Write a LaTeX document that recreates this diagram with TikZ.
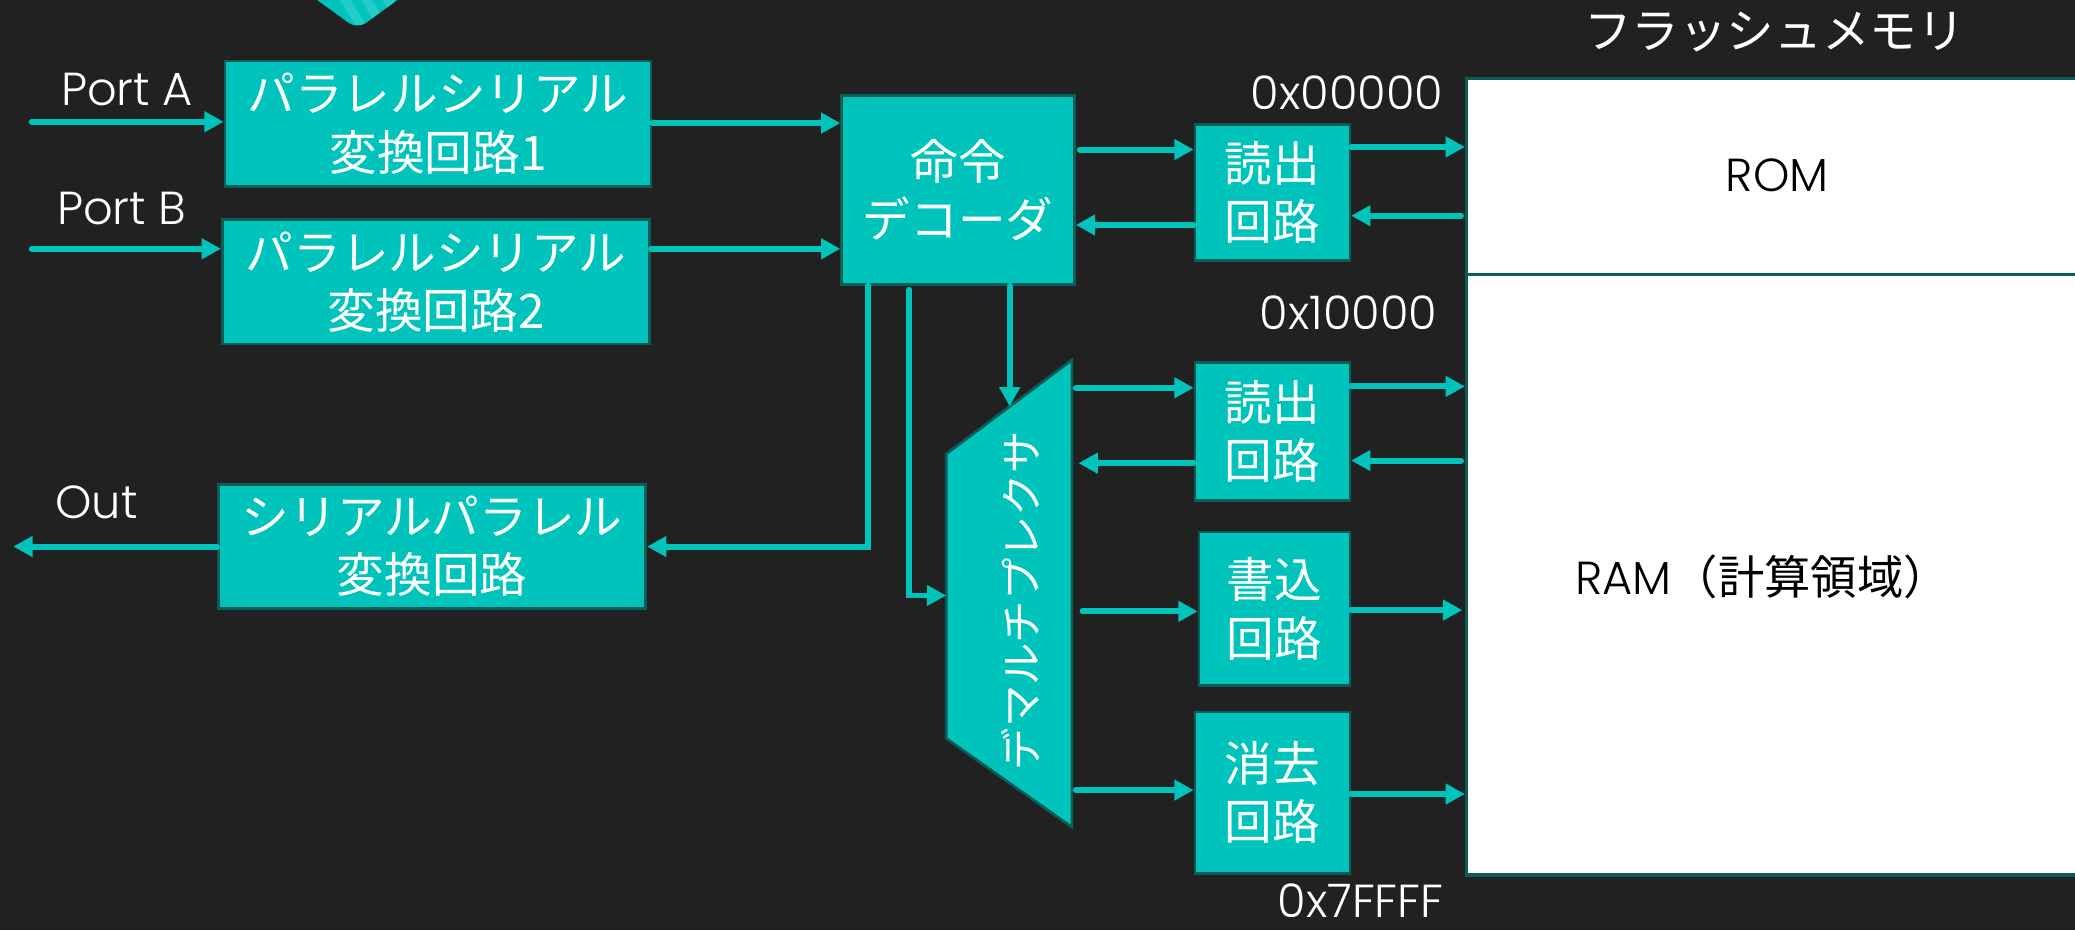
\documentclass[tikz,border=0pt]{standalone}
\usepackage{fontspec}
\setmainfont{Poppins}[UprightFont=*-Light]
\newfontfamily\jp{Noto Sans CJK JP}
\usetikzlibrary{arrows.meta,calc}
\definecolor{bg}{HTML}{212121}
\definecolor{tq}{HTML}{00C4BC}
\definecolor{tqd}{HTML}{0C5C58}
\definecolor{tql}{HTML}{4FD8D0}
\tikzset{
  box/.style={draw=tqd, line width=1pt, fill=tq, text=white, align=center, inner sep=0pt,
    font=\jp\fontsize{18}{22}\selectfont},
  lbl/.style={text=white, inner sep=0pt, anchor=base, font=\fontsize{17.5}{20}\selectfont},
  mem/.style={draw=tqd, line width=1.2pt, fill=white, inner sep=0pt, anchor=north west},
  arr/.style={draw=tq, line width=2.25pt, line cap=round, -{Triangle[length=7.3pt,width=7.5pt]}},
}
\begin{document}
\begin{tikzpicture}[x=0.5pt,y=-0.5pt]
\fill[bg] (0,0) rectangle (1568,703);
\useasboundingbox (0,0) rectangle (1568,703);

% top chevron decoration
\begin{scope}
  \clip[rounded corners=4pt] (226,-10) -- (270,22) -- (314,-10) -- cycle;
  \fill[tq] (200,-20) rectangle (340,40);
  \foreach \s in {0,16,32,48,64}{
    \fill[tql,opacity=0.45] (250+\s,-12) -- (258+\s,-12) -- (283+\s,30) -- (275+\s,30) -- cycle;
  }
\end{scope}

% labels
\node[lbl] (portA) at (96,80) {Port A};
\node[lbl] (portB) at (92,170) {Port B};
\node[lbl] (outl) at (73,392) {Out};
\node[lbl] (ad0) at (1018,83) {0x00000};
\node[lbl] (ad1) at (1019,249) {0x10000};
\node[lbl] (ad2) at (1028,693) {0x7FFFF};
\node[text=white, inner sep=0pt, font=\jp\fontsize{18}{22}\selectfont] (fl) at (1341,24) {フラッシュメモリ};

% memory
\node[mem, minimum width=236.5pt, minimum height=74pt] (rom) at (1107,58) {};
\node[mem, minimum width=236.5pt, minimum height=227pt] (ram) at (1107,206) {};
\node[inner sep=0pt, anchor=base, font=\fontsize{17.5}{20}\selectfont] (romt) at (1343,145) {ROM};
\node[inner sep=0pt, anchor=base, font=\fontsize{17.5}{20}\selectfont] (ramt) at (1332,449) {RAM{\jp （計算領域）}};

% boxes
\node[box, minimum width=161pt, minimum height=47.5pt] (ps1) at (331,93.5) {パラレルシリアル\\変換回路1};
\node[box, minimum width=161.5pt, minimum height=47pt] (ps2) at (329.5,213) {パラレルシリアル\\変換回路2};
\node[box, minimum width=161.5pt, minimum height=47pt] (sp) at (326.5,413) {シリアルパラレル\\変換回路};
\node[box, minimum width=88pt, minimum height=71.5pt] (dec) at (724,143.5) {命令\\デコーダ};
\node[box, minimum width=58.5pt, minimum height=51.5pt] (rd1) at (961.5,145.5) {読出\\回路};
\node[box, minimum width=58.5pt, minimum height=52pt] (rd2) at (961.5,326) {読出\\回路};
\node[box, minimum width=57pt, minimum height=58pt] (wr) at (963,460) {書込\\回路};
\node[box, minimum width=58.5pt, minimum height=61pt] (er) at (961.5,599) {消去\\回路};

% demultiplexer
\coordinate (dtl) at (715,343);
\coordinate (dtr) at (810,272);
\coordinate (dbr) at (810,625);
\coordinate (dbl) at (715,558);
\draw[draw=tqd, line width=1pt, fill=tq] (dtl) -- (dtr) -- (dbr) -- (dbl) -- cycle;
\node[rotate=90, text=white, inner sep=0pt, font=\jp\fontsize{16}{16}\selectfont] (dmx) at (771,454) {デマルチプレクサ};
\coordinate (dtop) at ($(dtl)!0.505!(dtr)$);

% inputs / outputs
\coordinate (pa) at (24,92);
\coordinate (pb) at (24,188);
\coordinate (outp) at (10,413);
\draw[arr] (pa) -- (pa -| ps1.west);
\draw[arr] (pb) -- (pb -| ps2.west);
\draw[arr] (sp.west) -- (outp |- sp.west);
\draw[arr] (ps1.east |- 0,93) -- (dec.west |- 0,93);
\draw[arr] (ps2.east |- 0,188) -- (dec.west |- 0,188);

% decoder outputs
\draw[arr] (dec.south -| 656,0) -- (656,0 |- sp.east) -- (sp.east);
\coordinate (c7) at (687,219);
\draw[arr] (c7) -- (c7 |- 0,450) -- (dtl |- 0,450);
\draw[arr] (dec.south -| dtop) -- (dtop);

% read circuit 1
\draw[arr] ($(dec.east |- 0,113)+(3,0)$) -- (rd1.west |- 0,113);
\draw[arr] (rd1.west |- 0,170) -- (dec.east |- 0,170);
\draw[arr] (rd1.east |- 0,111) -- (rom.west |- 0,111);
\draw[arr] ($(rom.west |- 0,163)+(-3,0)$) -- (rd1.east |- 0,163);

% read circuit 2
\draw[arr] ($(dtr |- 0,293)+(3,0)$) -- (rd2.west |- 0,293);
\draw[arr] (rd2.west |- 0,350) -- ($(dtr |- 0,350)+(5,0)$);
\draw[arr] (rd2.east |- 0,292) -- (ram.west |- 0,292);
\draw[arr] ($(ram.west |- 0,348)+(-3,0)$) -- (rd2.east |- 0,348);

% write circuit
\draw[arr] ($(dtr |- 0,462)+(8,0)$) -- (wr.west |- 0,462);
\draw[arr] (wr.east |- 0,461) -- ($(ram.west |- 0,461)+(-2,0)$);

% erase circuit
\draw[arr] ($(dtr |- 0,597)+(3,0)$) -- (er.west |- 0,597);
\draw[arr] (er.east |- 0,600) -- (ram.west |- 0,600);
\end{tikzpicture}
\end{document}
